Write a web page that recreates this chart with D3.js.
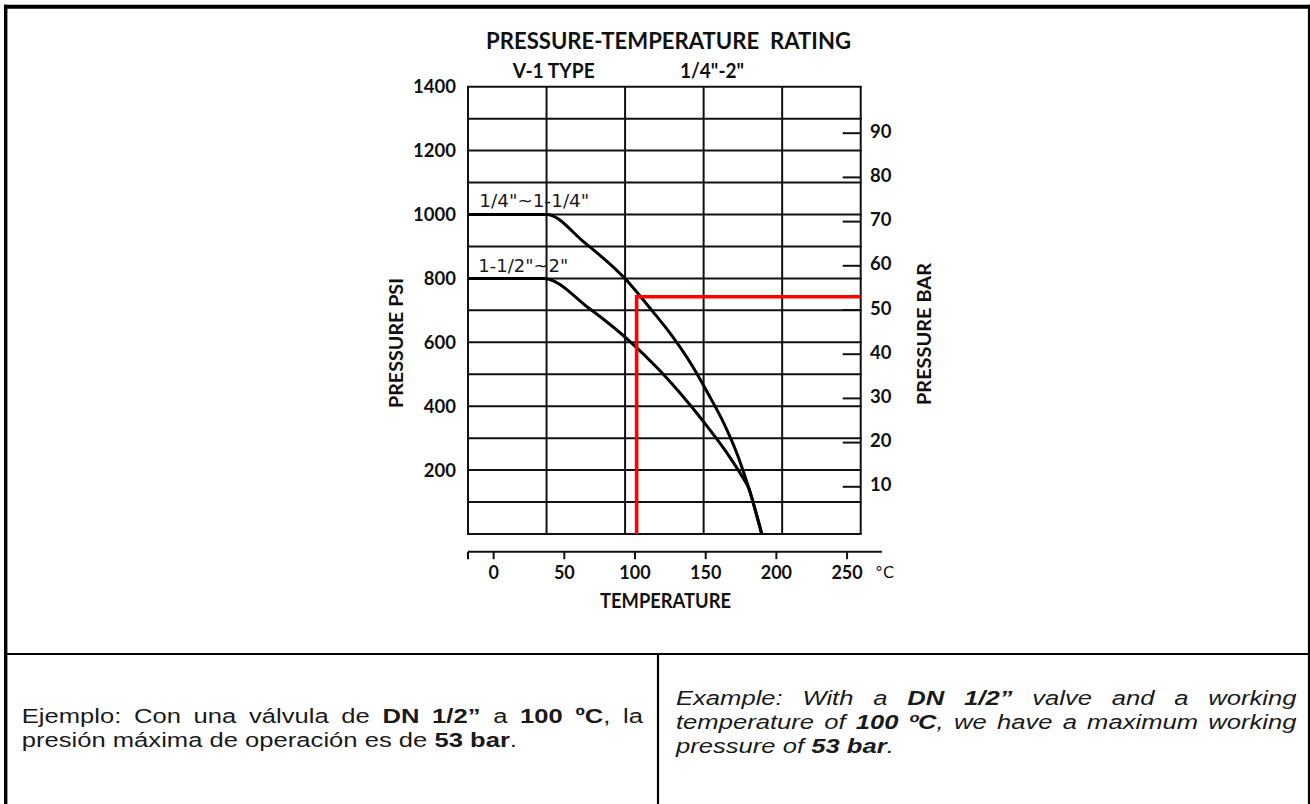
<!DOCTYPE html>
<html>
<head>
<meta charset="utf-8">
<script src="https://cdn.jsdelivr.net/npm/d3@7/dist/d3.min.js"></script>
<style>
  html, body { margin: 0; padding: 0; background: #fff; }
  svg { display: block; }
</style>
</head>
<body>
<svg id="chart" width="1310" height="804"></svg>
<script>
// ---------------- DATA ----------------
// grid columns of the original drawing are every 100 °F
const gridTempF = [0, 100, 200, 300, 400, 500];
const gridPsi = [0, 100, 200, 300, 400, 500, 600, 700, 800, 900, 1000, 1100, 1200, 1300, 1400];
const psiTickLabels = [200, 400, 600, 800, 1000, 1200, 1400];
const barTicks = [10, 20, 30, 40, 50, 60, 70, 80, 90];
const tempTicksC = [0, 50, 100, 150, 200, 250];

// curve for sizes 1/4" ~ 1-1/4"  (temperature °C, pressure psi)
const smallTempC = [-17.8, 37.8, 63.9, 94.4, 110.0, 126.7, 140.6, 151.7, 162.8, 173.9, 181.1, 185.6, 190.0];
const smallPsi   = [1000, 1000, 915, 794, 712, 619, 528, 442, 350, 235, 140, 72, 0];
// curve for sizes 1-1/2" ~ 2"
const largeTempC = [-17.8, 35.6, 68.3, 96.7, 116.7, 132.2, 150.0, 165.0, 175.6, 181.1, 185.6, 190.0];
const largePsi   = [800, 800, 705, 603, 517, 441, 345, 256, 184, 140, 72, 0];

// worked example (red lines)
const exampleTempC = 101.5;
const exampleBar = 53;

const titleText = "PRESSURE-TEMPERATURE\u00a0 RATING";
const subLeft = "V-1 TYPE";
const subRight = "1/4\"-2\"";
const labelSmall = "1/4\"~1-1/4\"";
const labelLarge = "1-1/2\"~2\"";

const esLines = [
  "Ejemplo: Con una válvula de **DN 1/2”** a **100 ºC**, la",
  "presión máxima de operación es de **53 bar**."
];
const enLines = [
  "Example: With a **DN 1/2”** valve and a working",
  "temperature of **100 ºC**, we have a maximum working",
  "pressure of **53 bar**."
];

// ---------------- DRAW ----------------
const svg = d3.select("#chart");
const fToC = f => (f - 32) / 1.8;

const plot = { left: 468, right: 860.7, top: 86.7, bottom: 534 };
const x = d3.scaleLinear().domain([fToC(0), fToC(500)]).range([plot.left, plot.right]);
const y = d3.scaleLinear().domain([0, 1400]).range([plot.bottom, plot.top]);
const yBar = d3.scaleLinear().domain([0, 100]).range([531, 89]);

const chartFont = "Lato, 'Open Sans', sans-serif";
const chartWeight = 700;
const thinFont = "'DejaVu Sans', sans-serif";
const ink = "#111";

// frame of the sheet
const frame = svg.append("g").attr("stroke", "#000").attr("fill", "none");
frame.append("line").attr("x1", 5.7).attr("x2", 5.7).attr("y1", 4.7).attr("y2", 804).attr("stroke-width", 3.4);
frame.append("line").attr("x1", 4).attr("x2", 1310).attr("y1", 6.7).attr("y2", 6.7).attr("stroke-width", 4);
frame.append("line").attr("x1", 1309).attr("x2", 1309).attr("y1", 4.7).attr("y2", 804).attr("stroke-width", 2.2);
frame.append("line").attr("x1", 4).attr("x2", 1310).attr("y1", 654).attr("y2", 654).attr("stroke-width", 2.2);
frame.append("line").attr("x1", 658).attr("x2", 658).attr("y1", 654).attr("y2", 804).attr("stroke-width", 2.2);

// curve labels (under grid lines, as in the drawing)
svg.append("text").attr("x", 479.3).attr("y", 207.3)
  .attr("font-family", thinFont).attr("font-size", 18.5)
  .attr("fill", "#1a1a1a").attr("textLength", 110).attr("lengthAdjust", "spacingAndGlyphs")
  .text(labelSmall);
svg.append("text").attr("x", 478.3).attr("y", 271.7)
  .attr("font-family", thinFont).attr("font-size", 18.5)
  .attr("fill", "#1a1a1a").attr("textLength", 90).attr("lengthAdjust", "spacingAndGlyphs")
  .text(labelLarge);

// grid
const grid = svg.append("g").attr("stroke", ink).attr("stroke-width", 2);
grid.selectAll("line.h").data(gridPsi).join("line")
  .attr("x1", plot.left - 1).attr("x2", plot.right + 1)
  .attr("y1", d => y(d)).attr("y2", d => y(d));
grid.selectAll("line.v").data(gridTempF).join("line")
  .attr("x1", d => x(fToC(d))).attr("x2", d => x(fToC(d)))
  .attr("y1", plot.top).attr("y2", plot.bottom);

// bar ticks (right side)
grid.selectAll("line.b").data(barTicks).join("line")
  .attr("x1", plot.right - 18).attr("x2", plot.right)
  .attr("y1", d => yBar(d)).attr("y2", d => yBar(d));

// curves
const line = d3.line().x(d => x(d[0])).y(d => y(d[1])).curve(d3.curveMonotoneX);
svg.append("path").datum(smallTempC.map((t, i) => [t, smallPsi[i]]))
  .attr("d", line).attr("fill", "none").attr("stroke", "#000").attr("stroke-width", 3);
svg.append("path").datum(largeTempC.map((t, i) => [t, largePsi[i]]))
  .attr("d", line).attr("fill", "none").attr("stroke", "#000").attr("stroke-width", 3);

// red example lines
const rx = x(exampleTempC), ry = yBar(exampleBar);
svg.append("path")
  .attr("d", `M${rx},${plot.bottom} L${rx},${ry} L${plot.right},${ry}`)
  .attr("fill", "none").attr("stroke", "#ff0000").attr("stroke-width", 3.6)
  .attr("stroke-linejoin", "miter");

// left psi labels
svg.append("g").selectAll("text").data(psiTickLabels).join("text")
  .attr("x", 456).attr("y", d => y(d)).attr("dy", "0.36em")
  .attr("text-anchor", "end").attr("font-family", chartFont).attr("font-weight", chartWeight)
  .attr("font-size", 18.5).attr("fill", ink).text(d => d);

// right bar labels
svg.append("g").selectAll("text").data(barTicks).join("text")
  .attr("x", 870).attr("y", d => yBar(d) - 2).attr("dy", "0.36em")
  .attr("font-family", chartFont).attr("font-weight", chartWeight)
  .attr("font-size", 18.5).attr("fill", ink).text(d => d);

// temperature axis
const axisY = 551.7;
const axisG = svg.append("g").attr("transform", `translate(0,${axisY})`)
  .call(d3.axisBottom(x).tickValues(tempTicksC).tickSize(7.5).tickSizeOuter(0).tickPadding(7));
axisG.select(".domain").remove();
axisG.selectAll(".tick line").attr("stroke", ink).attr("stroke-width", 2);
axisG.selectAll(".tick text").attr("font-family", chartFont).attr("font-weight", chartWeight)
  .attr("font-size", 18).attr("fill", ink);
svg.append("line").attr("x1", plot.left).attr("x2", x(275)).attr("y1", axisY).attr("y2", axisY)
  .attr("stroke", ink).attr("stroke-width", 2);
svg.append("line").attr("x1", plot.left).attr("x2", plot.left).attr("y1", axisY).attr("y2", axisY + 7.5)
  .attr("stroke", ink).attr("stroke-width", 2);
svg.append("text").attr("x", 875).attr("y", 578.3)
  .attr("font-family", thinFont).attr("font-size", 16).attr("fill", ink)
  .text("°C");

// titles
function label(txt, xx, yy, size, len, anchor) {
  return svg.append("text").attr("x", xx).attr("y", yy)
    .attr("font-family", chartFont).attr("font-weight", chartWeight).attr("font-size", size)
    .attr("fill", ink).attr("text-anchor", anchor || "start")
    .attr("textLength", len).attr("lengthAdjust", "spacingAndGlyphs").text(txt);
}
label(titleText, 486, 49.3, 23.5, 365);
label(subLeft, 512.7, 78.3, 21.5, 82);
label(subRight, 680, 78.3, 21.5, 64);
label("TEMPERATURE", 600, 608.3, 20.5, 131);

svg.append("text").attr("transform", "translate(403.3,343) rotate(-90)")
  .attr("text-anchor", "middle").attr("font-family", chartFont).attr("font-weight", chartWeight)
  .attr("font-size", 18.5).attr("fill", ink).attr("textLength", 130)
  .attr("lengthAdjust", "spacingAndGlyphs").text("PRESSURE PSI");
svg.append("text").attr("transform", "translate(931,334) rotate(-90)")
  .attr("text-anchor", "middle").attr("font-family", chartFont).attr("font-weight", chartWeight)
  .attr("font-size", 18.5).attr("fill", ink).attr("textLength", 142)
  .attr("lengthAdjust", "spacingAndGlyphs").text("PRESSURE BAR");

// ---------------- justified notes ----------------
function parseWords(str) {
  const parts = str.split("**");
  const words = [];
  let cur = [];
  parts.forEach((p, i) => {
    const bold = i % 2 === 1;
    p.split(" ").forEach((piece, j) => {
      if (j > 0) { if (cur.length) words.push(cur); cur = []; }
      if (piece) cur.push({ t: piece, b: bold });
    });
  });
  if (cur.length) words.push(cur);
  return words;
}
const noteFont = "'Liberation Sans', Arial, sans-serif";
const noteSize = 20;
const noteStretch = 1.28;   // the sheet's text is drawn wider than plain Arial
function drawWord(g, word, xx, yy, italic) {
  const t = g.append("text").attr("x", xx).attr("y", yy)
    .attr("font-family", noteFont).attr("font-size", noteSize).attr("fill", "#1a1a1a")
    .attr("font-style", italic ? "italic" : "normal");
  word.forEach(s => t.append("tspan").attr("font-weight", s.b ? "bold" : "normal").text(s.t));
  return t;
}
function drawParagraph(lines, x0, x1, baselines, italic) {
  const g = svg.append("g").attr("transform", `translate(${x0},0) scale(${noteStretch},1)`);
  const avail = (x1 - x0) / noteStretch;
  lines.forEach((ln, li) => {
    const words = parseWords(ln);
    const justify = li < lines.length - 1;
    const nodes = words.map(w => drawWord(g, w, 0, baselines[li], italic));
    const widths = nodes.map(n => n.node().getComputedTextLength());
    const total = d3.sum(widths);
    const gap = justify ? (avail - total) / (words.length - 1) : noteSize * 0.278;
    let cx = 0;
    nodes.forEach((n, i) => { n.attr("x", cx); cx += widths[i] + gap; });
  });
}
drawParagraph(esLines, 21.7, 643, [723, 747], false);
drawParagraph(enLines, 676, 1296.5, [705, 729, 753], true);
</script>
</body>
</html>
